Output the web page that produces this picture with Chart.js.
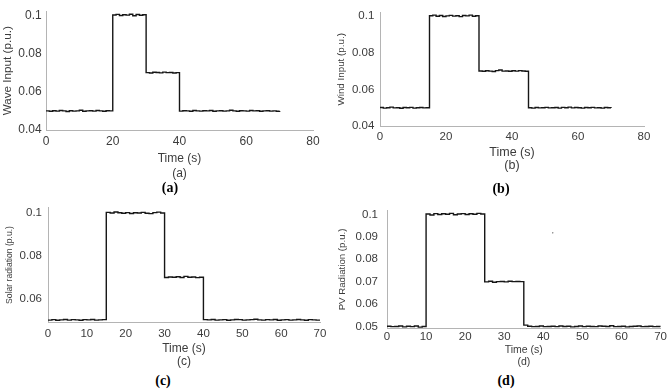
<!DOCTYPE html>
<html>
<head>
<meta charset="utf-8">
<script src="https://cdn.jsdelivr.net/npm/chart.js@4.4.1/dist/chart.umd.min.js"></script>
<style>
  html, body { margin: 0; padding: 0; background: #fff; }
  body { width: 669px; height: 391px; position: relative; overflow: hidden; }
  canvas { position: absolute; }
  .cap {
    position: absolute;
    font: bold 14px "Liberation Serif", "Times New Roman", serif;
    color: #000;
    transform: translate(-50%, -50%);
    white-space: nowrap;
  }
</style>
</head>
<body>
<canvas id="chartWave" style="left:0px;top:0px;width:335px;height:182px" width="335" height="182"></canvas>
<canvas id="chartWind" style="left:335px;top:0px;width:334px;height:180px" width="334" height="180"></canvas>
<canvas id="chartSolar" style="left:0px;top:195px;width:335px;height:175px" width="335" height="175"></canvas>
<canvas id="chartPV" style="left:335px;top:195px;width:334px;height:175px" width="334" height="175"></canvas>
<div class="cap" style="left:170px;top:188px">(a)</div>
<div class="cap" style="left:501px;top:189px">(b)</div>
<div class="cap" style="left:163px;top:381px">(c)</div>
<div class="cap" style="left:506px;top:381px">(d)</div>
<script>
// time axis, one sample per second
const timeSec = [
  0, 1, 2, 3, 4, 5, 6, 7, 8, 9, 10, 11, 12, 13, 14, 15, 16, 17, 18, 19,
  20, 21, 22, 23, 24, 25, 26, 27, 28, 29, 30, 31, 32, 33, 34, 35, 36, 37, 38, 39,
  40, 41, 42, 43, 44, 45, 46, 47, 48, 49, 50, 51, 52, 53, 54, 55, 56, 57, 58, 59,
  60, 61, 62, 63, 64, 65, 66, 67, 68, 69, 70,
];

// (a) wave input, p.u.
const waveInput = [
  0.0500, 0.0498, 0.0501, 0.0499, 0.0502, 0.0500, 0.0497, 0.0501, 0.0499, 0.0500,
  0.0503, 0.0498, 0.0500, 0.0501, 0.0499, 0.0502, 0.0500, 0.0498, 0.0501, 0.0500,
  0.1002, 0.1005, 0.0999, 0.1003, 0.1001, 0.1006, 0.0998, 0.1004, 0.1000, 0.1003,
  0.0700, 0.0698, 0.0702, 0.0701, 0.0699, 0.0703, 0.0700, 0.0701, 0.0698, 0.0700,
  0.0499, 0.0501, 0.0500, 0.0498, 0.0502, 0.0500, 0.0499, 0.0501, 0.0500, 0.0502,
  0.0498, 0.0500, 0.0501, 0.0499, 0.0500, 0.0503, 0.0500, 0.0498, 0.0501, 0.0500,
  0.0499, 0.0502, 0.0500, 0.0501, 0.0498, 0.0500, 0.0501, 0.0499, 0.0500, 0.0498,
  0.0500,
];

// (b) wind input, p.u.
const windInput = [
  0.0501, 0.0498, 0.0500, 0.0503, 0.0499, 0.0500, 0.0497, 0.0501, 0.0500, 0.0502,
  0.0498, 0.0500, 0.0501, 0.0499, 0.0500,
  0.1003, 0.1006, 0.1000, 0.1004, 0.0999, 0.1002, 0.1005, 0.1001, 0.1003, 0.0998,
  0.1004, 0.1002, 0.1006, 0.1000, 0.1003,
  0.0701, 0.0699, 0.0702, 0.0700, 0.0698, 0.0703, 0.0706, 0.0700, 0.0701, 0.0699,
  0.0702, 0.0700, 0.0703, 0.0701, 0.0699,
  0.0500, 0.0498, 0.0501, 0.0499, 0.0500, 0.0502, 0.0499, 0.0500, 0.0501, 0.0498,
  0.0502, 0.0500, 0.0503, 0.0499, 0.0501, 0.0500, 0.0498, 0.0501, 0.0500, 0.0502,
  0.0499, 0.0500, 0.0498, 0.0501, 0.0500, 0.0499,
];

// (c) solar radiation, p.u.
const solarRadiation = [
  0.0499, 0.0501, 0.0498, 0.0500, 0.0502, 0.0499, 0.0501, 0.0500, 0.0498, 0.0501,
  0.0500, 0.0502, 0.0499, 0.0500, 0.0501,
  0.1004, 0.1001, 0.1006, 0.1002, 0.1000, 0.1003, 0.0999, 0.1002, 0.1001, 0.1004,
  0.1000, 0.0998, 0.1003, 0.1005, 0.1001,
  0.0699, 0.0701, 0.0700, 0.0702, 0.0699, 0.0704, 0.0700, 0.0701, 0.0698, 0.0700,
  0.0501, 0.0500, 0.0502, 0.0499, 0.0500, 0.0501, 0.0498, 0.0500, 0.0502, 0.0501,
  0.0499, 0.0500, 0.0501, 0.0503, 0.0500, 0.0499, 0.0501, 0.0500, 0.0502, 0.0498,
  0.0500, 0.0501, 0.0499, 0.0500, 0.0502, 0.0500, 0.0498, 0.0501, 0.0500, 0.0499,
  0.0500,
];

// (d) PV radiation, p.u.
const pvRadiation = [
  0.0501, 0.0499, 0.0500, 0.0502, 0.0498, 0.0501, 0.0499, 0.0502, 0.0497, 0.0500,
  0.1002, 0.0998, 0.1004, 0.1000, 0.1003, 0.1001, 0.1005, 0.0999, 0.1002, 0.1004,
  0.1000, 0.1003, 0.1001, 0.1005, 0.1002,
  0.0699, 0.0702, 0.0697, 0.0700, 0.0701, 0.0699, 0.0702, 0.0700, 0.0701, 0.0700,
  0.0506, 0.0501, 0.0499, 0.0500, 0.0502, 0.0499, 0.0500, 0.0501, 0.0499, 0.0502,
  0.0500, 0.0501, 0.0498, 0.0500, 0.0502, 0.0499, 0.0501, 0.0500, 0.0499, 0.0502,
  0.0501, 0.0500, 0.0503, 0.0499, 0.0500, 0.0501, 0.0498, 0.0500, 0.0501, 0.0502,
  0.0499, 0.0500, 0.0501, 0.0499, 0.0500, 0.0499,
];
// stray dot visible in panel (d)
const pvStrayTime = [42.4];
const pvStrayValue = [0.0918];

// tick labels
const xTicks80 = [0, 20, 40, 60, 80];
const xTicks70 = [0, 10, 20, 30, 40, 50, 60, 70];
const yTicksInput = [0.04, 0.06, 0.08, 0.1];
const yTicksSolar = [0.06, 0.08, 0.1];
const yTicksPV = [0.05, 0.06, 0.07, 0.08, 0.09, 0.1];

const FONT = "'Liberation Sans', Arial, Helvetica, sans-serif";
const TEXT_COLOR = "#3c3c3c";
const AXIS_COLOR = "#b4b4b4";

function renderPanel(id, p) {
  const ctx = document.getElementById(id);
  if (!ctx) return;

  const datasets = [
    {
      data: timeSec.map((t, i) => ({ x: t, y: p.values[i] })),
      borderColor: "#161616",
      borderWidth: 1.4,
      pointRadius: 0,
      // hold each sample until the next one, jump at the next time
      stepped: "before",
      fill: false,
    },
  ];
  if (p.strayTime) {
    datasets.push({
      data: p.strayTime.map((t, i) => ({ x: t, y: p.strayValue[i] })),
      showLine: false,
      pointRadius: 0.8,
      pointBorderWidth: 0,
      pointBackgroundColor: "#8a8a8a",
    });
  }

  new Chart(ctx, {
    type: "line",
    data: { datasets: datasets },
    options: {
      responsive: false,
      animation: false,
      layout: { padding: { top: p.padTop, right: p.padRight, left: 0, bottom: 0 } },
      plugins: {
        legend: { display: false },
        tooltip: { enabled: false },
      },
      scales: {
        x: {
          type: "linear",
          min: p.xTicks[0],
          max: p.xTicks[p.xTicks.length - 1],
          afterBuildTicks: (axis) => {
            axis.ticks = p.xTicks.map((v) => ({ value: v }));
          },
          afterFit: (axis) => {
            axis.height = p.xHeight;
          },
          grid: { display: false, drawTicks: false },
          border: { display: true, color: AXIS_COLOR, width: 1 },
          ticks: {
            color: TEXT_COLOR,
            font: { family: FONT, size: p.tickSize },
            padding: p.xTickPad,
            maxRotation: 0,
            autoSkip: false,
            callback: (v) => String(v),
          },
          title: {
            display: true,
            text: ["Time (s)", p.caption],
            color: TEXT_COLOR,
            font: { family: FONT, size: p.xTitleSize, lineHeight: p.xTitleLine },
            padding: { top: 0, bottom: p.xTitlePad },
          },
        },
        y: {
          min: p.yMin,
          max: p.yMax,
          afterBuildTicks: (axis) => {
            axis.ticks = p.yTicks.map((v) => ({ value: v }));
          },
          afterFit: (axis) => {
            axis.width = p.yWidth;
          },
          grid: { display: false, drawTicks: false },
          border: { display: true, color: AXIS_COLOR, width: 1 },
          ticks: {
            color: TEXT_COLOR,
            font: { family: FONT, size: p.tickSize },
            padding: p.yTickPad,
            callback: (v) => String(v),
          },
          title: {
            display: true,
            text: p.yTitle,
            color: TEXT_COLOR,
            font: { family: FONT, size: p.yTitleSize },
            padding: { top: p.yTitlePad, bottom: 0 },
          },
        },
      },
    },
  });
}

renderPanel("chartWave", {
  values: waveInput, caption: "(a)", yTitle: "Wave Input (p.u.)",
  xTicks: xTicks80, yTicks: yTicksInput, yMin: 0.04, yMax: 0.102,
  padTop: 4, padRight: 22, yWidth: 46, xHeight: 52,
  tickSize: 12, xTickPad: 4.5, yTickPad: 4.3,
  xTitleSize: 12, xTitleLine: 1.25, xTitlePad: 1.2,
  yTitleSize: 11.7, yTitlePad: 1,
});

renderPanel("chartWind", {
  values: windInput, caption: "(b)", yTitle: "Wind Input (p.u.)",
  xTicks: xTicks80, yTicks: yTicksInput, yMin: 0.04, yMax: 0.102,
  padTop: 3, padRight: 25, yWidth: 45, xHeight: 54,
  tickSize: 11.5, xTickPad: 4, yTickPad: 5.7,
  xTitleSize: 12.5, xTitleLine: 1.05, xTitlePad: 7.8,
  yTitleSize: 9.8, yTitlePad: 0,
});

renderPanel("chartSolar", {
  values: solarRadiation, caption: "(c)", yTitle: "Solar radiation (p.u.)",
  xTicks: xTicks70, yTicks: yTicksSolar, yMin: 0.049, yMax: 0.1025,
  padTop: 7, padRight: 15, yWidth: 48, xHeight: 48,
  tickSize: 11.5, xTickPad: 4.5, yTickPad: 6,
  xTitleSize: 12, xTitleLine: 1.125, xTitlePad: 1.2,
  yTitleSize: 8.6, yTitlePad: 4,
});

renderPanel("chartPV", {
  values: pvRadiation, caption: "(d)", yTitle: "PV Radiation (p.u.)",
  strayTime: pvStrayTime, strayValue: pvStrayValue,
  xTicks: xTicks70, yTicks: yTicksPV, yMin: 0.0493, yMax: 0.1016,
  padTop: 5, padRight: 6, yWidth: 52, xHeight: 42,
  tickSize: 11.5, xTickPad: 2, yTickPad: 9,
  xTitleSize: 10.5, xTitleLine: 1.15, xTitlePad: 2,
  yTitleSize: 9.7, yTitlePad: 2,
});
</script>
</body>
</html>
